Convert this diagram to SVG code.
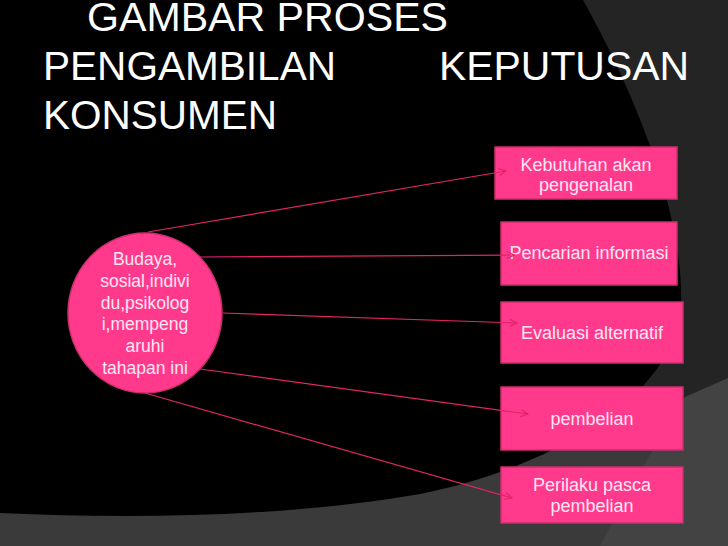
<svg xmlns="http://www.w3.org/2000/svg" width="728" height="546" viewBox="0 0 728 546">
  <defs>
    <style>
      .title { font-family: "Liberation Sans", Arial, sans-serif; font-size: 40px; fill: #ffffff; }
      .node { fill: #ff3a8d; stroke: #cc2f6c; stroke-width: 1.5; }
      .label { font-family: "Liberation Sans", Arial, sans-serif; font-size: 18px; fill: #ffe6f2; text-anchor: middle; }
      .clabel { font-family: "Liberation Sans", Arial, sans-serif; font-size: 17.5px; fill: #ffe6f2; text-anchor: middle; }
      .conn { stroke: #e0246a; stroke-width: 1.2; fill: none; marker-end: url(#arrow); }
    </style>
    <marker id="arrow" viewBox="0 0 10 10" refX="9" refY="5" markerWidth="9" markerHeight="9" markerUnits="userSpaceOnUse" orient="auto">
      <path d="M1,1 L9,5 L1,9" fill="none" stroke="#e0246a" stroke-width="1.3"/>
    </marker>
  </defs>

  <!-- background -->
  <g id="background">
    <rect x="0" y="0" width="728" height="546" fill="#242424"/>
    <path d="M728,378 L640,420 L0,495 L0,546 L728,546 Z" fill="#3a3a3a"/>
    <path d="M728,378 L685,397 L647,460 L600,546 L728,546 Z" fill="#434343"/>
    <path d="M0,0 L583,0 C636,95 684,215 681,305 C678,390 560,466 420,494 C300,515 150,520 0,513 Z" fill="#000000"/>
  </g>

  <g id="title">
    <text class="title" x="87" y="31" textLength="361" lengthAdjust="spacingAndGlyphs">GAMBAR PROSES</text>
    <text class="title" x="43" y="80" textLength="293" lengthAdjust="spacingAndGlyphs">PENGAMBILAN</text>
    <text class="title" x="439" y="80" textLength="250" lengthAdjust="spacingAndGlyphs">KEPUTUSAN</text>
    <text class="title" x="43" y="129" textLength="234" lengthAdjust="spacingAndGlyphs">KONSUMEN</text>
  </g>

  <g id="node-faktor">
    <ellipse class="node" cx="145" cy="313" rx="77" ry="80"/>
    <text class="clabel" x="145" y="265">Budaya,</text>
    <text class="clabel" x="145" y="287">sosial,indivi</text>
    <text class="clabel" x="145" y="308.5">du,psikolog</text>
    <text class="clabel" x="145" y="330">i,mempeng</text>
    <text class="clabel" x="145" y="352">aruhi</text>
    <text class="clabel" x="145" y="374">tahapan ini</text>
  </g>

  <g id="node-kebutuhan">
    <rect class="node" x="495" y="147" width="182" height="52"/>
    <text class="label" x="586" y="171">Kebutuhan akan</text>
    <text class="label" x="586" y="190.5">pengenalan</text>
  </g>

  <g id="node-pencarian">
    <rect class="node" x="501" y="222" width="176" height="63"/>
    <text class="label" x="589" y="259">Pencarian informasi</text>
  </g>

  <g id="node-evaluasi">
    <rect class="node" x="501" y="302" width="182" height="61"/>
    <text class="label" x="592" y="339">Evaluasi alternatif</text>
  </g>

  <g id="node-pembelian">
    <rect class="node" x="501" y="387" width="182" height="63"/>
    <text class="label" x="592" y="425">pembelian</text>
  </g>

  <g id="node-pasca">
    <rect class="node" x="501" y="467" width="182" height="56"/>
    <text class="label" x="592" y="490.5">Perilaku pasca</text>
    <text class="label" x="592" y="511.5">pembelian</text>
  </g>

  <g id="connectors">
    <line class="conn" x1="148" y1="232" x2="506" y2="171"/>
    <line class="conn" x1="200" y1="257" x2="514" y2="255"/>
    <line class="conn" x1="223" y1="313" x2="517" y2="323"/>
    <line class="conn" x1="200" y1="369" x2="528" y2="414"/>
    <line class="conn" x1="145" y1="393" x2="512" y2="498"/>
  </g>
</svg>
